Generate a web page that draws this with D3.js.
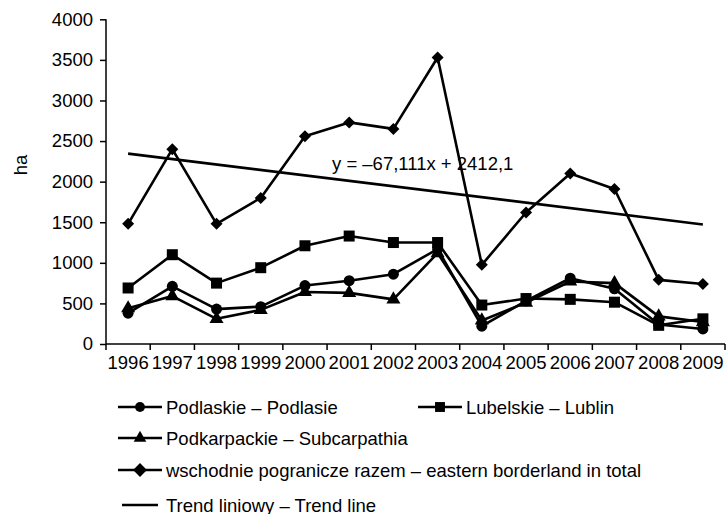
<!DOCTYPE html>
<html>
<head>
<meta charset="utf-8">
<script src="https://cdn.jsdelivr.net/npm/d3@7"></script>
<style>
  body { margin: 0; background: #fff; }
  svg text { font-family: Arial, "Liberation Sans", sans-serif; font-size: 18.5px; fill: #000; }
</style>
</head>
<body>
<svg id="chart" width="726" height="514"></svg>
<script>
// data (ha)
var years = ["1996","1997","1998","1999","2000","2001","2002","2003","2004","2005","2006","2007","2008","2009"];
var podlaskie    = [380, 710, 430, 460, 720, 780, 860, 1170, 220, 530, 810, 680, 240, 185];
var lubelskie    = [690, 1100, 750, 940, 1210, 1330, 1250, 1250, 480, 560, 550, 515, 230, 310];
var podkarpackie = [440, 590, 310, 420, 640, 630, 550, 1120, 290, 510, 770, 750, 340, 270];
var razem        = [1480, 2400, 1480, 1800, 2560, 2730, 2650, 3530, 975, 1620, 2100, 1910, 790, 740];
var trendEnds    = [2345, 1473];   // trend line at 1996 and 2009
var yTicks = [0, 500, 1000, 1500, 2000, 2500, 3000, 3500, 4000];
var trendLabel = "y = \u201367,111x + 2412,1";

var series = [
  { name: "Podlaskie \u2013 Podlasie", values: podlaskie, shape: "circle" },
  { name: "Lubelskie \u2013 Lublin", values: lubelskie, shape: "square" },
  { name: "Podkarpackie \u2013 Subcarpathia", values: podkarpackie, shape: "triangle" },
  { name: "wschodnie pogranicze razem \u2013 eastern borderland in total", values: razem, shape: "diamond" }
];

var svg = d3.select("#chart");

var x = d3.scaleBand().domain(years).range([106, 725]).padding(0);
var y = d3.scaleLinear().domain([0, 4000]).range([344, 19.3]);
var cx = function(i) { return x(years[i]) + x.bandwidth() / 2; };

// markers
function marker(sel, shape, big) {
  var s = big ? 1 : 0.9;
  if (shape === "circle") {
    sel.append("circle").attr("r", 5.5 * s).attr("fill", "#000");
  } else if (shape === "square") {
    sel.append("rect").attr("x", -5.5 * s).attr("y", -5.5 * s)
      .attr("width", 11 * s).attr("height", 11 * s).attr("fill", "#000");
  } else if (shape === "triangle") {
    sel.append("path").attr("d", d3.symbol().type(d3.symbolTriangle).size(85 * s * s)()).attr("fill", "#000");
  } else {
    sel.append("path").attr("transform", "rotate(45)")
      .attr("d", d3.symbol().type(d3.symbolSquare).size(big ? 72 : 95)()).attr("fill", "#000");
  }
}

// axes
var yAxis = svg.append("g")
  .attr("transform", "translate(106,0)")
  .call(d3.axisLeft(y).tickValues(yTicks).tickSize(6).tickPadding(7).tickFormat(d3.format("d")));
var xAxis = svg.append("g")
  .attr("transform", "translate(0,344)")
  .call(d3.axisBottom(x).tickSize(0).tickPadding(0));
[yAxis, xAxis].forEach(function(a) {
  a.select(".domain").attr("stroke", "#000").attr("stroke-width", 1.5);
  a.selectAll("line").attr("stroke", "#000").attr("stroke-width", 1.5);
  a.selectAll("text").attr("font-size", null).attr("font-family", null);
});
yAxis.select(".domain").attr("d", "M0,19.3V344");
xAxis.select(".domain").attr("d", "M106,0H725");
xAxis.selectAll("text").attr("y", 25).attr("dy", 0);
// x tick marks at category boundaries
xAxis.selectAll("line.bound")
  .data(years.concat(["end"]))
  .enter().append("line")
  .attr("class", "bound")
  .attr("x1", function(d, i) { return 106 + i * x.bandwidth(); })
  .attr("x2", function(d, i) { return 106 + i * x.bandwidth(); })
  .attr("y1", 0).attr("y2", 6)
  .attr("stroke", "#000").attr("stroke-width", 1.5);

svg.append("text")
  .attr("transform", "translate(27,165) rotate(-90)")
  .attr("text-anchor", "middle")
  .text("ha");

// series lines and markers
var line = d3.line()
  .x(function(d, i) { return cx(i); })
  .y(function(d) { return y(d); });

series.forEach(function(s) {
  svg.append("path")
    .datum(s.values)
    .attr("d", line)
    .attr("fill", "none")
    .attr("stroke", "#000")
    .attr("stroke-width", 2.6)
    .attr("stroke-linejoin", "round");
  svg.append("g").selectAll("g")
    .data(s.values)
    .enter().append("g")
    .attr("transform", function(d, i) { return "translate(" + cx(i) + "," + y(d) + ")"; })
    .each(function() { marker(d3.select(this), s.shape, true); });
});

// trend line
svg.append("line")
  .attr("x1", cx(0)).attr("y1", y(trendEnds[0]))
  .attr("x2", cx(years.length - 1)).attr("y2", y(trendEnds[1]))
  .attr("stroke", "#000").attr("stroke-width", 2.6);
svg.append("text")
  .attr("x", 332).attr("y", 170)
  .text(trendLabel);

// legend
var legendItems = [
  { s: series[0], x: 118, y: 407 },
  { s: series[1], x: 418, y: 407 },
  { s: series[2], x: 118, y: 438 },
  { s: series[3], x: 118, y: 470 },
  { s: { name: "Trend liniowy \u2013 Trend line", shape: null }, x: 122, y: 505 }
];
legendItems.forEach(function(it) {
  var g = svg.append("g").attr("transform", "translate(" + it.x + "," + it.y + ")");
  var len = it.s.shape ? 44 : 36;
  g.append("line").attr("x1", 0).attr("x2", len).attr("y1", 0).attr("y2", 0)
    .attr("stroke", "#000").attr("stroke-width", 2.6);
  if (it.s.shape) {
    var m = g.append("g").attr("transform", "translate(22,0)");
    marker(m, it.s.shape, false);
  }
  g.append("text").attr("x", it.s.shape ? 48 : 44).attr("y", 6.5).text(it.s.name);
});
</script>
</body>
</html>
